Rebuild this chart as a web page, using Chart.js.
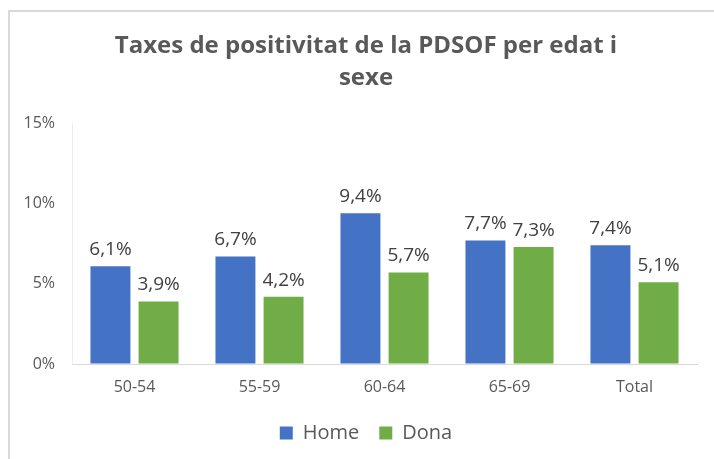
<!DOCTYPE html>
<html>
<head>
<meta charset="utf-8">
<script src="https://cdn.jsdelivr.net/npm/chart.js@4/dist/chart.umd.min.js"></script>
<style>
  html, body { margin: 0; padding: 0; background: #fff; }
  #wrap {
    position: absolute; left: 8px; top: 10px; width: 706px; height: 449px;
    border-left: 2px solid #d9d9d9; border-top: 2px solid #d9d9d9;
    box-sizing: border-box;
  }
  canvas { display: block; }
</style>
</head>
<body>
<div id="wrap"><canvas id="c" width="704" height="447"></canvas></div>
<script>
const titleLines = ["Taxes de positivitat de la PDSOF per edat i", "sexe"];
const categories = ["50-54", "55-59", "60-64", "65-69", "Total"];
const homeValues = [6.1, 6.7, 9.4, 7.7, 7.4];
const donaValues = [3.9, 4.2, 5.7, 7.3, 5.1];
const seriesNames = ["Home", "Dona"];
const yTicks = [0, 5, 10, 15];

const FONT = "'Open Sans', 'DejaVu Sans', sans-serif";

const dataLabels = {
  id: 'dataLabels',
  afterDatasetsDraw(chart) {
    const ctx = chart.ctx;
    ctx.save();
    ctx.font = "19px " + FONT;
    ctx.fillStyle = '#404040';
    ctx.textAlign = 'center';
    ctx.textBaseline = 'bottom';
    chart.data.datasets.forEach((ds, i) => {
      chart.getDatasetMeta(i).data.forEach((el, j) => {
        const txt = ds.data[j].toFixed(1).replace('.', ',') + '%';
        ctx.fillText(txt, el.x, el.y - 7);
      });
    });
    ctx.restore();
  }
};

new Chart(document.getElementById('c'), {
  type: 'bar',
  data: {
    labels: categories,
    datasets: [
      { label: seriesNames[0], data: homeValues, backgroundColor: '#4472C4' },
      { label: seriesNames[1], data: donaValues, backgroundColor: '#70AD47' }
    ]
  },
  options: {
    responsive: false,
    animation: false,
    categoryPercentage: 0.77,
    barPercentage: 0.83,
    layout: { padding: { left: 8, right: 0, top: 0, bottom: 6 } },
    plugins: {
      title: {
        display: true,
        text: titleLines,
        color: '#595959',
        font: { family: FONT, size: 24, weight: 'bold', lineHeight: 1.3 },
        padding: { top: 19, bottom: 30 }
      },
      legend: {
        position: 'bottom',
        labels: {
          color: '#595959',
          font: { family: FONT, size: 20 },
          boxWidth: 13,
          boxHeight: 13,
          padding: 20
        }
      },
      tooltip: { enabled: false }
    },
    scales: {
      x: {
        afterFit: (s) => { s.height = 39; },
        grid: { color: 'rgba(0,0,0,0)', drawTicks: false },
        border: { display: true, color: '#d9d9d9', width: 1 },
        ticks: { color: '#595959', font: { family: FONT, size: 16 }, padding: 14 }
      },
      y: {
        min: 0, max: 15,
        afterBuildTicks: (s) => { s.ticks = yTicks.map(v => ({ value: v })); },
        afterFit: (s) => { s.width = 54; },
        grid: { color: 'rgba(0,0,0,0)', drawTicks: false },
        border: { display: true, color: '#ececec', width: 1 },
        ticks: {
          color: '#595959', font: { family: FONT, size: 16 }, padding: 17,
          callback: (v) => v + '%'
        }
      },
      spacer: {
        type: 'linear',
        position: 'right',
        min: 0, max: 1,
        afterFit: (s) => { s.width = 17; },
        grid: { display: false, drawTicks: false },
        border: { display: false },
        ticks: { display: false }
      }
    }
  },
  plugins: [dataLabels]
});
</script>
</body>
</html>
